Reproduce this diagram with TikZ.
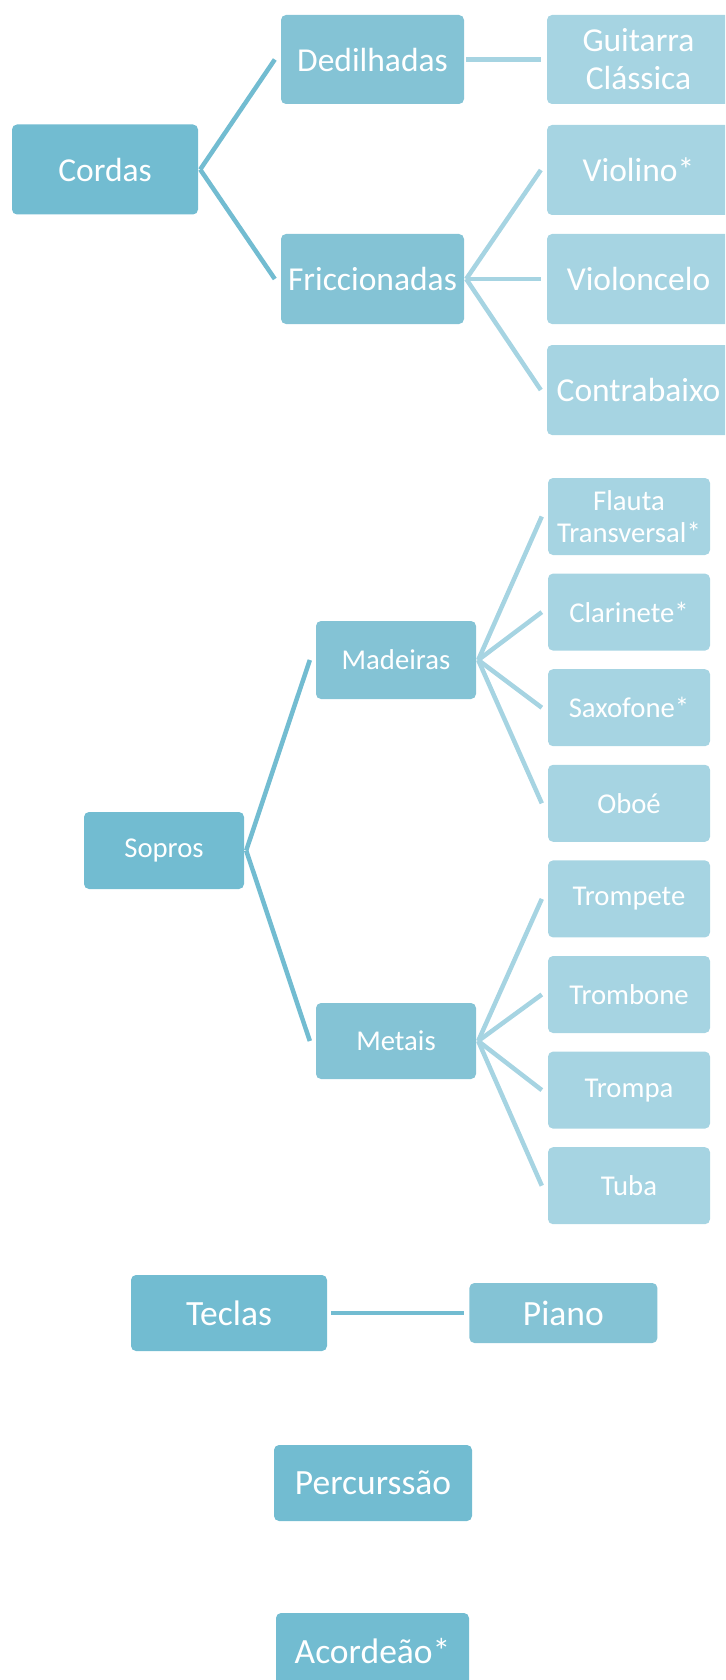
\documentclass[tikz,border=0pt]{standalone}
\usepackage{fontspec}
\setmainfont{Carlito}
\usepackage{tikz}
\usetikzlibrary{positioning}

\definecolor{rootblue}{RGB}{114,188,209}
\definecolor{midblue}{RGB}{132,195,213}
\definecolor{leafblue}{RGB}{166,212,226}

\tikzset{
	box/.style={rectangle, rounded corners=5pt, text=white, inner sep=0pt, align=center},
	rootbox/.style={box, fill=rootblue},
	midbox/.style={box, fill=midblue},
	leafbox/.style={box, fill=leafblue},
	bigtext/.style={font=\fontsize{33.5}{38}\selectfont},
	smalltext/.style={font=\fontsize{28.7}{32}\selectfont},
	lowtext/.style={font=\fontsize{35.5}{40}\selectfont},
	link/.style={line width=4.5pt, draw=rootblue},
	leaflink/.style={line width=4.5pt, draw=leafblue}
}

\begin{document}
\begin{tikzpicture}[x=1pt, y=-1pt]

	\useasboundingbox (0,0) rectangle (725,1680);
	\clip (0,0) rectangle (725,1680);

	% Cordas %
	\node (cordas) [rootbox, bigtext, minimum width=186pt, minimum height=90pt] at (105,169.5) {Cordas};
	\node (dedilhadas) [midbox, bigtext, minimum width=183pt, minimum height=89pt] at (372.5,59.5) {Dedilhadas};
	\node (friccionadas) [midbox, bigtext, minimum width=183pt, minimum height=90pt] at (372.5,279) {Friccionadas};
	\node (guitarra) [leafbox, bigtext, minimum width=183pt, minimum height=89pt] at (638.5,59.5) {Guitarra\\Clássica};
	\node (violino) [leafbox, bigtext, minimum width=183pt, minimum height=90pt] at (638.5,170) {Violino*};
	\node (violoncelo) [leafbox, bigtext, minimum width=183pt, minimum height=90pt] at (638.5,279) {Violoncelo};
	\node (contrabaixo) [leafbox, bigtext, minimum width=183pt, minimum height=90pt] at (638.5,390) {Contrabaixo};
	\draw [link] ([xshift=2pt]cordas.east) -- ([xshift=-6pt]dedilhadas.west);
	\draw [link] ([xshift=2pt]cordas.east) -- ([xshift=-6pt]friccionadas.west);
	\draw [leaflink] ([xshift=2pt]dedilhadas.east) -- ([xshift=-6pt]guitarra.west);
	\draw [leaflink] ([xshift=2pt]friccionadas.east) -- ([xshift=-6pt]violino.west);
	\draw [leaflink] ([xshift=2pt]friccionadas.east) -- ([xshift=-6pt]violoncelo.west);
	\draw [leaflink] ([xshift=2pt]friccionadas.east) -- ([xshift=-6pt]contrabaixo.west);

	% Sopros %
	\node (sopros) [rootbox, smalltext, minimum width=160pt, minimum height=77pt] at (164,850.5) {Sopros};
	\node (madeiras) [midbox, smalltext, minimum width=160pt, minimum height=78pt] at (396,660) {Madeiras};
	\node (metais) [midbox, smalltext, minimum width=160pt, minimum height=76pt] at (396,1041) {Metais};
	\node (flauta) [leafbox, smalltext, minimum width=162pt, minimum height=77pt] at (629,516.5) {Flauta\\Transversal*};
	\node (clarinete) [leafbox, smalltext, minimum width=162pt, minimum height=77pt, below=18.2pt of flauta] {Clarinete*};
	\node (saxofone) [leafbox, smalltext, minimum width=162pt, minimum height=77pt, below=18.2pt of clarinete] {Saxofone*};
	\node (oboe) [leafbox, smalltext, minimum width=162pt, minimum height=77pt, below=18.2pt of saxofone] {Oboé};
	\node (trompete) [leafbox, smalltext, minimum width=162pt, minimum height=77pt, below=18.2pt of oboe] {Trompete};
	\node (trombone) [leafbox, smalltext, minimum width=162pt, minimum height=77pt, below=18.2pt of trompete] {Trombone};
	\node (trompa) [leafbox, smalltext, minimum width=162pt, minimum height=77pt, below=18.2pt of trombone] {Trompa};
	\node (tuba) [leafbox, smalltext, minimum width=162pt, minimum height=77pt, below=18.2pt of trompa] {Tuba};
	\draw [link] ([xshift=2pt]sopros.east) -- ([xshift=-6pt]madeiras.west);
	\draw [link] ([xshift=2pt]sopros.east) -- ([xshift=-6pt]metais.west);
	\draw [leaflink] ([xshift=2pt]madeiras.east) -- ([xshift=-6pt]flauta.west);
	\draw [leaflink] ([xshift=2pt]madeiras.east) -- ([xshift=-6pt]clarinete.west);
	\draw [leaflink] ([xshift=2pt]madeiras.east) -- ([xshift=-6pt]saxofone.west);
	\draw [leaflink] ([xshift=2pt]madeiras.east) -- ([xshift=-6pt]oboe.west);
	\draw [leaflink] ([xshift=2pt]metais.east) -- ([xshift=-6pt]trompete.west);
	\draw [leaflink] ([xshift=2pt]metais.east) -- ([xshift=-6pt]trombone.west);
	\draw [leaflink] ([xshift=2pt]metais.east) -- ([xshift=-6pt]trompa.west);
	\draw [leaflink] ([xshift=2pt]metais.east) -- ([xshift=-6pt]tuba.west);

	% Teclas %
	\node (teclas) [rootbox, lowtext, minimum width=196pt, minimum height=76pt] at (229,1313) {Teclas};
	\node (piano) [midbox, lowtext, minimum width=188pt, minimum height=60pt, right=142pt of teclas] {Piano};
	\draw [link] ([xshift=4pt]teclas.east) -- ([xshift=-5pt]piano.west);

	% Percurssao %
	\node (percurssao) [rootbox, lowtext, minimum width=198pt, minimum height=76pt] at (373,1483) {Percurssão};

	% Acordeao %
	\node (acordeao) [rootbox, lowtext, minimum width=193pt, minimum height=77pt] at (372.5,1651.5) {Acordeão*};
\end{tikzpicture}
\end{document}
